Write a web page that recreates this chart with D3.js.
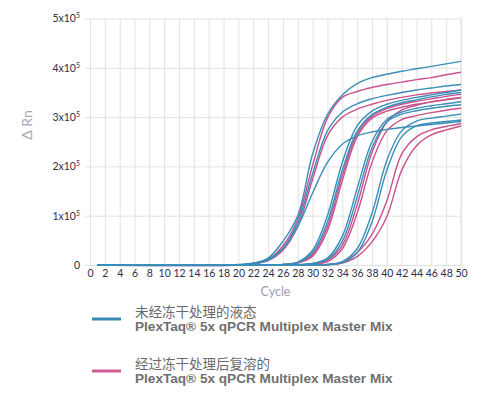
<!DOCTYPE html>
<html>
<head>
<meta charset="utf-8">
<script src="https://cdn.jsdelivr.net/npm/d3@7"></script>
<style>
  body { margin: 0; background: #fff; }
  .tick text { font-family: Lato, "Open Sans", sans-serif; font-size: 10.5px; fill: #2f2f4c; }
</style>
</head>
<body>
<script>
// cycles sampled for every curve, values are delta Rn in thousands
var cycles = [1, 20, 22, 24, 26, 28, 30, 32, 34, 36, 38, 40, 42, 44, 46, 48, 50];

var xTicks = [0, 2, 4, 6, 8, 10, 12, 14, 16, 18, 20, 22, 24, 26, 28, 30, 32, 34, 36, 38, 40, 42, 44, 46, 48, 50];
var yTicks = [0, 100, 200, 300, 400, 500];
var yTickLabels = ['0', '1x10', '2x10', '3x10', '4x10', '5x10'];

// liquid, not freeze dried
var liquidSeries = [
  [0, 0, 3, 14, 48, 100, 225, 305, 345, 368, 380, 387, 393, 398, 403, 408, 413],
  [0, 0, 2, 10, 34, 86, 185, 272, 310, 327, 337, 344, 350, 355, 359, 363, 366],
  [0, 1, 4, 12, 33, 78, 146, 208, 245, 262, 270, 275, 279, 282, 285, 288, 291],
  [0, 0, 0, 0, 1, 6, 30, 100, 208, 282, 312, 326, 334, 340, 345, 350, 355],
  [0, 0, 0, 0, 1, 5, 25, 87, 192, 271, 305, 320, 329, 335, 341, 346, 350],
  [0, 0, 0, 0, 0, 1, 3, 14, 58, 155, 250, 295, 310, 318, 323, 327, 331],
  [0, 0, 0, 0, 0, 0, 3, 11, 48, 138, 238, 290, 306, 313, 318, 322, 325],
  [0, 0, 0, 0, 0, 0, 0, 1, 7, 33, 105, 212, 272, 292, 298, 302, 306],
  [0, 0, 0, 0, 0, 0, 0, 1, 5, 25, 87, 192, 260, 282, 288, 291, 294]
];

// freeze dried then reconstituted
var lyoSeries = [
  [0, 0, 3, 11, 39, 93, 202, 298, 340, 352, 360, 366, 371, 376, 380, 386, 391],
  [0, 0, 2, 9, 30, 78, 174, 262, 300, 316, 326, 334, 340, 345, 349, 352, 355],
  [0, 0, 0, 0, 1, 5, 21, 78, 182, 266, 302, 317, 326, 332, 337, 342, 346],
  [0, 0, 0, 0, 0, 4, 18, 70, 171, 260, 298, 312, 320, 326, 331, 336, 340],
  [0, 0, 0, 0, 0, 0, 2, 10, 40, 122, 228, 290, 314, 324, 331, 335, 339],
  [0, 0, 0, 0, 0, 0, 2, 7, 33, 105, 208, 272, 295, 303, 309, 314, 318],
  [0, 0, 0, 0, 0, 0, 0, 1, 6, 25, 62, 130, 225, 260, 274, 281, 287],
  [0, 0, 0, 0, 0, 0, 0, 0, 4, 17, 47, 98, 192, 242, 264, 274, 282]
];

var legendItems = [
  { name: '未经冻干处理的液态', colour: '#3a86b4' },
  { name: '经过冻干处理后复溶的', colour: '#cf5c97' }
];
var productName = 'PlexTaq® 5x qPCR Multiplex Master Mix';

var width = 492, height = 395;
var margin = { top: 18.5, right: 31, bottom: 130, left: 90 };
var blue = '#3a8eb8', pink = '#c9528d';

var svg = d3.select('body').append('svg')
  .attr('width', width)
  .attr('height', height);

var x = d3.scaleLinear()
  .domain([0, 50])
  .range([margin.left, width - margin.right]);

var y = d3.scaleLinear()
  .domain([0, 500])
  .range([height - margin.bottom, margin.top]);

var plotW = x(50) - x(0), plotH = y(0) - y(500);

// vertical grid + cycle labels
var xAxis = svg.append('g')
  .attr('transform', `translate(0, ${y(0)})`)
  .call(d3.axisBottom(x).tickValues(xTicks).tickSize(-plotH).tickSizeOuter(0).tickPadding(5));

xAxis.select('.domain').remove();
xAxis.selectAll('.tick line').attr('stroke', '#e2e2e2');

// horizontal grid + delta Rn labels
var yAxis = svg.append('g')
  .attr('transform', `translate(${x(0)}, 0)`)
  .call(d3.axisLeft(y).tickValues(yTicks).tickSize(-plotW).tickSizeOuter(0).tickPadding(10)
    .tickFormat(''));

yAxis.select('.domain').remove();
yAxis.selectAll('.tick line').attr('stroke', '#e2e2e2').attr('x1', -5);

yAxis.selectAll('.tick text')
  .each(function(d, i) {
    var t = d3.select(this);
    t.text(yTickLabels[i]);
    if (d > 0) {
      t.append('tspan')
        .attr('dy', -4)
        .style('font-size', '7px')
        .text('5');
    }
  });

svg.append('line')
  .attr('x1', x(50)).attr('x2', x(50))
  .attr('y1', y(0)).attr('y2', y(500))
  .attr('stroke', '#e2e2e2');

// curves
var line = d3.line()
  .x((d, i) => x(cycles[i]))
  .y(d => y(d))
  .curve(d3.curveCatmullRom.alpha(0.5));

svg.selectAll('path.lyo')
  .data(lyoSeries)
  .enter()
  .append('path')
  .attr('class', 'lyo')
  .attr('d', line)
  .attr('fill', 'none')
  .attr('stroke', pink)
  .attr('stroke-width', 1.4);

svg.selectAll('path.liquid')
  .data(liquidSeries)
  .enter()
  .append('path')
  .attr('class', 'liquid')
  .attr('d', line)
  .attr('fill', 'none')
  .attr('stroke', blue)
  .attr('stroke-width', 1.4);

// axis titles
svg.append('text')
  .attr('x', (x(0) + x(50)) / 2)
  .attr('y', 296)
  .attr('text-anchor', 'middle')
  .style('font-family', 'Lato, sans-serif')
  .style('font-size', '12.5px')
  .style('fill', '#9d9db3')
  .text('Cycle');

svg.append('text')
  .attr('transform', 'translate(32, 125) rotate(-90)')
  .attr('text-anchor', 'middle')
  .style('font-family', 'Lato, sans-serif')
  .style('font-size', '14px')
  .style('fill', '#a8a8bc')
  .text('Δ Rn');

// legend
var legend = svg.selectAll('g.legend')
  .data(legendItems)
  .enter()
  .append('g')
  .attr('class', 'legend')
  .attr('transform', (d, i) => `translate(92, ${319 + i * 52})`);

legend.append('line')
  .attr('x1', 0).attr('x2', 29)
  .attr('stroke', d => d.colour)
  .attr('stroke-width', 3);

legend.append('text')
  .attr('x', 43)
  .attr('y', -2.5)
  .style('font-family', '"Noto Sans CJK SC", sans-serif')
  .style('font-size', '13.5px')
  .style('fill', '#6a6a6a')
  .text(d => d.name);

legend.append('text')
  .attr('x', 43)
  .attr('y', 12)
  .style('font-family', '"Liberation Sans", Arial, sans-serif')
  .style('font-weight', 'bold')
  .style('font-size', '13.6px')
  .style('fill', '#707070')
  .text(productName);
</script>
</body>
</html>
